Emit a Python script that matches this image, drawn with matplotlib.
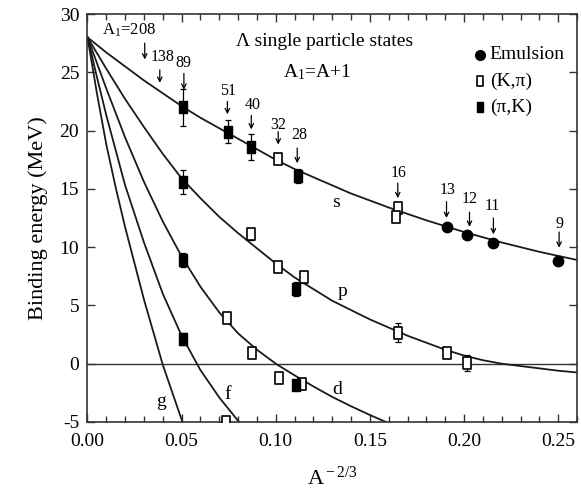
import matplotlib
matplotlib.use("Agg")
import matplotlib.pyplot as plt
from matplotlib.path import Path
from matplotlib.ticker import MultipleLocator, FormatStrFormatter

plt.rcParams['font.family'] = ['Liberation Serif', 'DejaVu Serif']
plt.rcParams['mathtext.fontset'] = 'custom'
plt.rcParams['mathtext.rm'] = 'Liberation Serif'
plt.rcParams['mathtext.it'] = 'Liberation Serif:italic'
plt.rcParams['axes.unicode_minus'] = False

# ---------------- data ----------------
# theoretical curves: x = A^-2/3, y = binding energy (MeV)
s_x = [0.00, 0.01, 0.02, 0.03, 0.04, 0.05, 0.06, 0.07, 0.08, 0.09, 0.10, 0.11, 0.12, 0.14, 0.16, 0.18, 0.20, 0.22, 0.24, 0.26]
s_y = [28.0, 26.7, 25.5, 24.3, 23.2, 22.1, 21.1, 20.2, 19.3, 18.4, 17.5, 16.7, 16.0, 14.6, 13.4, 12.3, 11.3, 10.4, 9.6, 8.9]

p_x = [0.00, 0.01, 0.02, 0.03, 0.04, 0.05, 0.06, 0.07, 0.08, 0.09, 0.10, 0.11, 0.12, 0.13, 0.14, 0.15, 0.16, 0.17, 0.18, 0.19, 0.20, 0.21, 0.22, 0.23, 0.24, 0.25, 0.26]
p_y = [28.0, 25.3, 22.7, 20.3, 18.0, 15.9, 14.2, 12.6, 11.2, 9.9, 8.6, 7.4, 6.4, 5.4, 4.6, 3.8, 3.1, 2.4, 1.8, 1.2, 0.7, 0.3, 0.0, -0.2, -0.4, -0.6, -0.75]

d_x = [0.00, 0.01, 0.02, 0.03, 0.04, 0.05, 0.06, 0.07, 0.08, 0.09, 0.10, 0.11, 0.12, 0.13, 0.14, 0.15, 0.16, 0.17]
d_y = [28.0, 23.6, 19.4, 15.6, 12.2, 9.2, 6.6, 4.4, 2.6, 1.2, 0.0, -1.0, -1.95, -2.85, -3.65, -4.4, -5.1, -5.8]

f_x = [0.00, 0.005, 0.01, 0.02, 0.03, 0.04, 0.05, 0.06, 0.07, 0.08, 0.09]
f_y = [28.0, 24.6, 21.3, 15.3, 10.4, 6.0, 2.4, -0.55, -2.9, -4.9, -6.7]

g_x = [0.00, 0.005, 0.01, 0.015, 0.02, 0.03, 0.04, 0.05, 0.055]
g_y = [28.0, 23.2, 18.8, 15.1, 11.7, 5.5, -0.1, -4.8, -7.0]

# data points
emul_x = [0.1908, 0.2018, 0.2154, 0.2500]
emul_y = [11.7, 11.0, 10.35, 8.8]

kpi_x = [0.1013, 0.1650, 0.1640, 0.0869, 0.1010, 0.1151, 0.1650, 0.1909, 0.2018, 0.0740, 0.0874, 0.1015, 0.1140, 0.0737]
kpi_y = [17.55, 13.4, 12.6, 11.15, 8.26, 7.45, 2.65, 0.92, 0.05, 3.95, 0.95, -1.2, -1.75, -5.0]
kpi_e = [0.3, 0.3, 0.3, 0.5, 0.4, 0.5, 0.8, 0.4, 0.7, 0.4, 0.3, 0.4, 0.3, 0.3]

pik_x = [0.0507, 0.0745, 0.0869, 0.1116, 0.0507, 0.1110, 0.0507, 0.1110, 0.0507]
pik_y = [22.0, 19.9, 18.6, 16.1, 15.6, 6.4, 8.9, -1.8, 2.1]
pik_e = [1.6, 1.0, 1.1, 0.6, 1.0, 0.6, 0.6, 0.4, 0.5]

# A1 labels with arrows
arr_lab = ["138", "89", "51", "40", "32", "28", "16", "13", "12", "11", "9"]
arr_x = [0.0384, 0.0512, 0.0743, 0.0870, 0.1013, 0.1114, 0.1648, 0.1907, 0.2029, 0.2156, 0.2505]
arr_top = [25.2, 24.9, 22.5, 21.3, 19.9, 18.5, 15.5, 13.9, 13.0, 12.5, 11.3]
arr_bot = [24.1, 23.5, 21.4, 20.1, 18.8, 17.2, 14.2, 12.5, 11.75, 11.1, 9.95]
lab_x = [0.0400, 0.0508, 0.0746, 0.0876, 0.1013, 0.1124, 0.1653, 0.1913, 0.2029, 0.2151, 0.2505]
lab_y = [26.3, 25.8, 23.4, 22.2, 20.5, 19.6, 16.4, 14.9, 14.1, 13.5, 12.0]

curve_names = ["s", "p", "d", "f", "g"]
curve_lab_x = [0.1318, 0.1353, 0.1327, 0.0745, 0.0393]
curve_lab_y = [13.8, 6.2, -2.2, -2.65, -3.2]

# ---------------- figure ----------------
fig = plt.figure(figsize=(5.81, 4.90), dpi=100)
ax = fig.add_axes([0.1506, 0.1388, 0.9931 - 0.1506, 0.9714 - 0.1388])

lc = '#1a1a1a'
for cx, cy in [(s_x, s_y), (p_x, p_y), (d_x, d_y), (f_x, f_y), (g_x, g_y)]:
    ax.plot(cx, cy, color=lc, lw=1.3, zorder=2)

ax.axhline(0, color='#333333', lw=1.0, zorder=1)

rect = Path([(-0.36, -0.5), (0.36, -0.5), (0.36, 0.5), (-0.36, 0.5), (-0.36, -0.5)],
            [Path.MOVETO, Path.LINETO, Path.LINETO, Path.LINETO, Path.CLOSEPOLY])

ax.errorbar(kpi_x, kpi_y, yerr=kpi_e, fmt='none', ecolor='black', elinewidth=0.9,
            capsize=2.5, capthick=0.9, zorder=3)
ax.plot(kpi_x, kpi_y, ls='none', marker=rect, ms=8, mfc='white', mec='black', mew=1.2, zorder=4)

ax.errorbar(pik_x, pik_y, yerr=pik_e, fmt='none', ecolor='black', elinewidth=0.9,
            capsize=2.5, capthick=0.9, zorder=3)
ax.plot(pik_x, pik_y, ls='none', marker=rect, ms=8.5, mfc='black', mec='black', mew=1.0, zorder=5)

ax.plot(emul_x, emul_y, ls='none', marker='o', ms=7.5, mfc='black', mec='black', zorder=5)

# arrows and labels
for lab, x, yt, yb, tx, ty in zip(arr_lab, arr_x, arr_top, arr_bot, lab_x, lab_y):
    ax.annotate('', xy=(x, yb), xytext=(x, yt),
                arrowprops=dict(arrowstyle='->', lw=0.9, color='black',
                                shrinkA=0, shrinkB=0, mutation_scale=8))
    ax.text(tx, ty, lab, ha='center', va='center', fontsize=11.5)

ax.annotate('', xy=(0.0304, 26.1), xytext=(0.0304, 27.5),
            arrowprops=dict(arrowstyle='->', lw=0.9, color='black',
                            shrinkA=0, shrinkB=0, mutation_scale=8))
ax.text(0.0222, 28.6, r"A$_{\rm 1}$=208", ha='center', va='center', fontsize=12)

for name, x, y in zip(curve_names, curve_lab_x, curve_lab_y):
    ax.text(x, y, name, ha='center', va='center', fontsize=14)

ax.text(0.0791, 27.6, "Λ single particle states", ha='left', va='center', fontsize=14)
ax.text(0.1036, 25.0, r"A$_{\rm 1}$=A+1", ha='left', va='center', fontsize=14)

# legend (drawn manually)
leg_y = [0.900, 0.836, 0.772]
ax.plot([0.802], [leg_y[0]], transform=ax.transAxes, marker='o', ms=7, mfc='black',
        mec='black', ls='none', clip_on=False)
ax.plot([0.802], [leg_y[1]], transform=ax.transAxes, marker=rect, ms=7, mfc='white',
        mec='black', mew=1.2, ls='none', clip_on=False)
ax.plot([0.802], [leg_y[2]], transform=ax.transAxes, marker=rect, ms=7, mfc='black',
        mec='black', ls='none', clip_on=False)
for yy, t in zip(leg_y, ["Emulsion", "(K,π)", "(π,K)"]):
    ax.text(0.822, yy, t, transform=ax.transAxes, ha='left', va='center', fontsize=14)

# axes formatting
ax.set_xlim(0, 0.26)
ax.set_ylim(-5, 30)
ax.xaxis.set_major_locator(MultipleLocator(0.05))
ax.xaxis.set_minor_locator(MultipleLocator(0.01))
ax.yaxis.set_major_locator(MultipleLocator(5))
ax.xaxis.set_major_formatter(FormatStrFormatter('%.2f'))
ax.yaxis.set_major_formatter(FormatStrFormatter('%d'))
ax.tick_params(which='both', direction='in', top=True, right=True, labelsize=14,
               color='#333333')
ax.tick_params(which='major', length=6, width=1.0, pad=5)
ax.tick_params(which='minor', length=4, width=1.0)
ax.tick_params(axis='x', which='major', pad=8)
ax.tick_params(axis='y', which='major', pad=6)
for sp in ax.spines.values():
    sp.set_color('#333333')
    sp.set_linewidth(1.2)

ax.set_xlabel(r"A$^{\rm -2/3}$", fontsize=16, labelpad=12)
ax.set_ylabel("Binding energy (MeV)", fontsize=16, labelpad=8)

fig.savefig("out.png", dpi=100)
